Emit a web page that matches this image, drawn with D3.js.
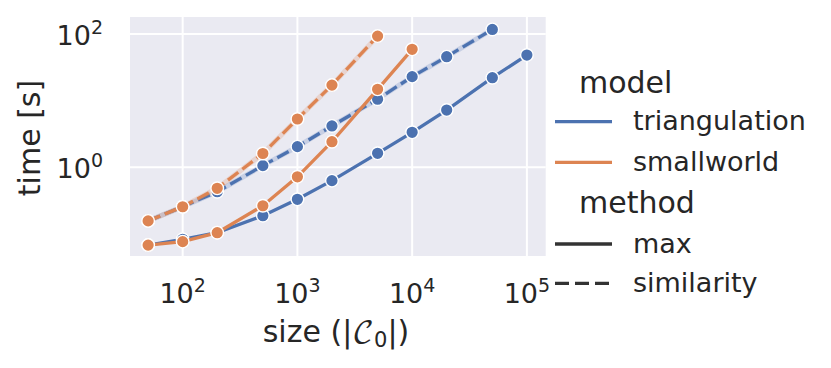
<!DOCTYPE html>
<html><head><meta charset="utf-8">
<script src="https://cdn.jsdelivr.net/npm/d3@7"></script>
<style>body{margin:0;background:#fff}svg{display:block}text{font-family:"DejaVu Sans",sans-serif;fill:#262626}</style>
</head><body>
<svg id="c" width="831" height="368"></svg>
<script>
const sizes = [50,100,200,500,1000,2000,5000,10000,20000,50000,100000];
const triangulationMax = [0.068,0.083,0.1045,0.188,0.331,0.63,1.62,3.35,7.23,22.1,48.3];
const triangulationSimilarity = [0.157,0.256,0.43,1.06,2.04,4.17,10.5,22.9,45.6,117];
const smallworldMax = [0.068,0.0766,0.1045,0.265,0.72,2.42,14.8,58.9];
const smallworldSimilarity = [0.157,0.256,0.484,1.61,5.3,17.1,93];
const xTicks = [100,1000,10000,100000];
const yTicks = [1,100];
const models = ["triangulation","smallworld"];
const methods = ["max","similarity"];
const colors = {triangulation:"#4c72b0", smallworld:"#dd8452"};

const series = [
  {model:"triangulation", method:"max", vals:triangulationMax},
  {model:"triangulation", method:"similarity", vals:triangulationSimilarity},
  {model:"smallworld", method:"max", vals:smallworldMax},
  {model:"smallworld", method:"similarity", vals:smallworldSimilarity}
];

const svg = d3.select("#c");
const L=130, R=545.7, T=17, B=256;
const x = d3.scaleLog().domain([Math.pow(10,1.541), Math.pow(10,5.164)]).range([L,R]);
const y = d3.scaleLog().domain([Math.pow(10,-1.331), Math.pow(10,2.255)]).range([B,T]);

svg.append("rect").attr("x",L).attr("y",T).attr("width",R-L).attr("height",B-T).attr("fill","#eaeaf2");

const g = svg.append("g");
g.selectAll(".vg").data(xTicks).join("line").attr("x1",d=>x(d)).attr("x2",d=>x(d)).attr("y1",T).attr("y2",B).attr("stroke","#fff").attr("stroke-width",2);
g.selectAll(".hg").data(yTicks).join("line").attr("y1",d=>y(d)).attr("y2",d=>y(d)).attr("x1",L).attr("x2",R).attr("stroke","#fff").attr("stroke-width",2);

const FS = 27, SUP = 19, LFS = 30;
function pow10(sel, d){
  const e = Math.round(Math.log10(d));
  sel.append("tspan").text("10");
  sel.append("tspan").attr("font-size",SUP).attr("dy",-11).text(e);
}
svg.selectAll(".xt").data(xTicks).join("text").attr("x",d=>x(d)).attr("y",303).attr("text-anchor","middle").attr("font-size",FS).each(function(d){pow10(d3.select(this),d);});
svg.selectAll(".yt").data(yTicks).join("text").attr("x",103).attr("y",d=>y(d)+11).attr("text-anchor","end").attr("font-size",FS).each(function(d){pow10(d3.select(this),d);});

svg.append("text").attr("transform","translate(40,138) rotate(-90)").attr("text-anchor","middle").attr("font-size",LFS).text("time [s]");
const xl = svg.append("text").attr("x",336).attr("y",342).attr("text-anchor","middle").attr("font-size",LFS);
xl.append("tspan").text("size (|");
xl.append("tspan").attr("font-family","'DejaVu Math TeX Gyre','Noto Sans Math','DejaVu Serif',serif").attr("font-style","normal").text("\u{1D49E}");
xl.append("tspan").attr("font-size",21).attr("dy",5).text("0");
xl.append("tspan").attr("dy",-5).text("|)");

const line = d3.line().x(d=>x(d[0])).y(d=>y(d[1]));
series.forEach(s=>{
  const pts = s.vals.map((v,i)=>[sizes[i],v]);
  const gs = svg.append("g");
  if(s.method==="similarity"){
    gs.append("path").attr("d",line(pts)).attr("fill","none").attr("stroke",colors[s.model]).attr("stroke-opacity",0.22).attr("stroke-width",5);
  }
  gs.append("path").attr("d",line(pts)).attr("fill","none").attr("stroke",colors[s.model]).attr("stroke-width",3.3)
    .attr("stroke-dasharray", s.method==="similarity" ? "13,5" : null);
  gs.selectAll("circle").data(pts).join("circle").attr("cx",d=>x(d[0])).attr("cy",d=>y(d[1])).attr("r",6.3)
    .attr("fill",colors[s.model]).attr("stroke","#fff").attr("stroke-width",1.4);
});

// legend
const lg = svg.append("g");
lg.append("text").attr("x",579).attr("y",93).attr("font-size",LFS).text("model");
models.forEach((m,i)=>{
  const cy = 121.7 + i*40.6;
  lg.append("line").attr("x1",555).attr("x2",612).attr("y1",cy).attr("y2",cy).attr("stroke",colors[m]).attr("stroke-width",3.3);
  lg.append("text").attr("x",633).attr("y",cy+8.5).attr("font-size",FS).text(m);
});
lg.append("text").attr("x",579).attr("y",213.3).attr("font-size",LFS).text("method");
methods.forEach((m,i)=>{
  const cy = 244 + i*39.3;
  lg.append("line").attr("x1",555).attr("x2",612).attr("y1",cy).attr("y2",cy).attr("stroke","#333").attr("stroke-width",3.3)
    .attr("stroke-dasharray", m==="similarity" ? "14,6" : null);
  lg.append("text").attr("x",633).attr("y",cy+8.5).attr("font-size",FS).text(m);
});
</script>
</body></html>
